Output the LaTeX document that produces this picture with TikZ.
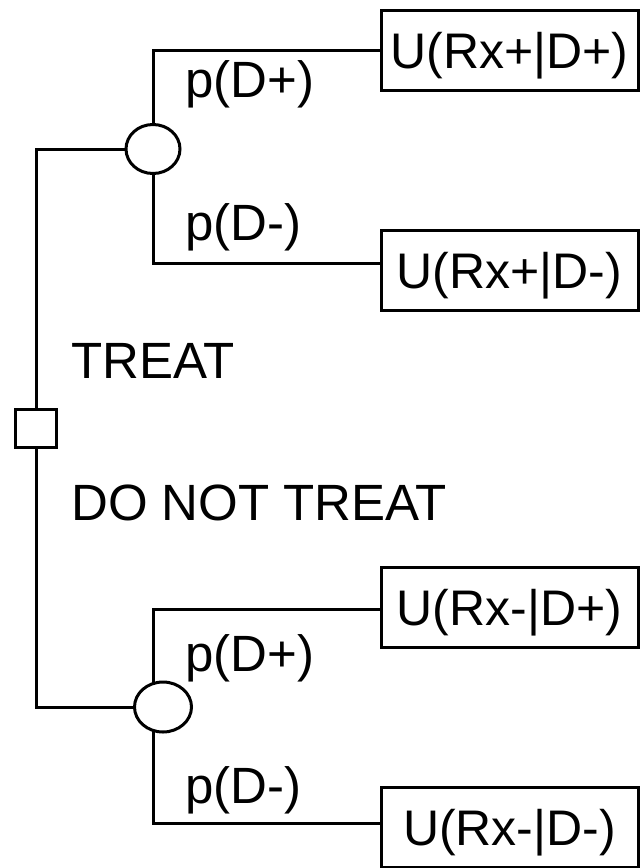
\documentclass[tikz,border=0pt]{standalone}
\usepackage{fontspec}
\setmainfont{Liberation Sans}
\usetikzlibrary{shapes.geometric,backgrounds}
\tikzset{
  ln/.style={line width=3pt, line join=miter},
  decision/.style={draw, line width=3pt, rectangle, fill=white, inner sep=0pt, minimum width=41pt, minimum height=38pt},
  chance/.style={draw, line width=3pt, ellipse, fill=white, inner sep=0pt},
  outcome/.style={draw, line width=3pt, rectangle, fill=white, inner sep=0pt, minimum width=257pt, minimum height=80pt, text depth=0pt, font=\fontsize{50}{58}\selectfont},
  lbl/.style={anchor=base west, inner sep=0pt, font=\fontsize{51}{60}\selectfont}
}
\begin{document}
\begin{tikzpicture}[x=1pt,y=-1pt]
\useasboundingbox (0,0) rectangle (641,868);
% nodes
\node[decision] (sq) at (36,428) {};
\node[chance, minimum width=54pt, minimum height=49pt] (c1) at (153,149) {};
\node[chance, minimum width=57pt, minimum height=50pt] (c2) at (163,707) {};
\node[outcome] (b1) at (509.5,50) {U(Rx+|D+)};
\node[outcome] (b2) at (509.5,270) {U(Rx+|D-)};
\node[outcome] (b3) at (509.5,607) {U(Rx-|D+)};
\node[outcome] (b4) at (509.5,827) {U(Rx-|D-)};
\coordinate (k1) at (153,50);
\coordinate (k2) at (153,263);
\coordinate (k3) at (153,609);
\coordinate (k4) at (153,823);
% labels
\node[lbl] (l1) at (185,97) {p(D+)};
\node[lbl] (l2) at (185,240) {p(D-)};
\node[lbl] (l3) at (185,671) {p(D+)};
\node[lbl] (l4) at (185,803) {p(D-)};
\node[lbl] (t1) at (71,378) {TREAT};
\node[lbl] (t2) at (71,520) {DO NOT TREAT};
% connectors
\begin{pgfonlayer}{background}
\draw[ln] (sq.north) -- (sq.north |- c1.west) -- (c1.west);
\draw[ln] (sq.south) -- (sq.south |- c2.west) -- (c2.west);
\draw[ln] (c1.north) -- (k1) -- (b1.west |- k1);
\draw[ln] (c1.south) -- (k2) -- (b2.west |- k2);
\draw[ln] (k3 |- c2.center) -- (k3) -- (b3.west |- k3);
\draw[ln] (k4 |- c2.center) -- (k4) -- (b4.west |- k4);
\end{pgfonlayer}
\end{tikzpicture}
\end{document}
